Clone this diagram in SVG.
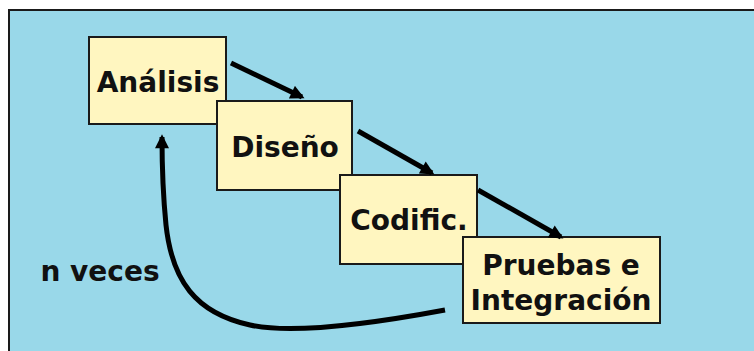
<svg xmlns="http://www.w3.org/2000/svg" width="754" height="351" viewBox="0 0 754 351">
<style>
.box{fill:#FFF6C0;stroke:#1a1a1a;stroke-width:2}
.t{font-family:"DejaVu Sans","Liberation Sans",sans-serif;font-weight:bold;font-size:28px;fill:#111;text-anchor:middle}
.c{fill:none;stroke:#000;stroke-width:5}
</style>
<defs>
<marker id="ah" viewBox="0 0 10 10" refX="8" refY="5" markerWidth="15" markerHeight="14" markerUnits="userSpaceOnUse" orient="auto">
<path d="M0,0 L10,5 L0,10 z" fill="#000"/>
</marker>
</defs>
<rect x="0" y="0" width="754" height="351" fill="#fff"/>
<rect x="9" y="10" width="760" height="360" fill="#99D8E9" stroke="#1a1a1a" stroke-width="2"/>
<g id="n-analisis"><rect class="box" x="89" y="37" width="137" height="87"/><text class="t" x="158" y="92">Análisis</text></g>
<g id="n-diseno"><rect class="box" x="217" y="101" width="135" height="89"/><text class="t" x="285" y="157">Diseño</text></g>
<g id="n-codific"><rect class="box" x="340" y="175" width="137" height="89"/><text class="t" x="409" y="230">Codific.</text></g>
<g id="n-pruebas"><rect class="box" x="463" y="237" width="197" height="86"/><text class="t" x="561" y="275">Pruebas e</text><text class="t" x="561" y="310">Integración</text></g>
<g id="label"><text class="t" x="100" y="281">n veces</text></g>
<g id="connectors">
<path class="c" d="M231,63 L302,97" marker-end="url(#ah)"/>
<path class="c" d="M358,131 L432,173" marker-end="url(#ah)"/>
<path class="c" d="M478,190 L561,237" marker-end="url(#ah)"/>
<path class="c" stroke-width="4" d="M445,310 C370,324 290,334 250,325 C195,313 172,280 166,225 C163,195 162,170 162,137" marker-end="url(#ah)"/>
</g>
</svg>
